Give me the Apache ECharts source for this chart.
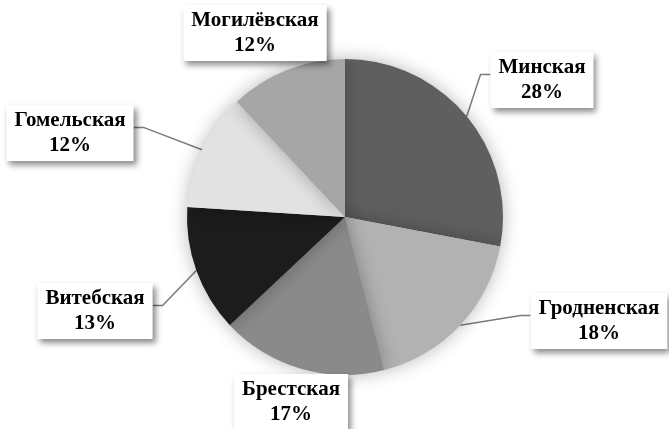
<!DOCTYPE html>
<html>
<head>
<meta charset="utf-8">
<script src="https://cdn.jsdelivr.net/npm/echarts@6/dist/echarts.min.js"></script>
<style>
html, body { margin: 0; padding: 0; background: #fff; }
#pie_1 { width: 669px; height: 429px; }
</style>
</head>
<body>
<div id="pie_1"></div>
<script>
// области и доли (%)
var regions = ['Минская', 'Гродненская', 'Брестская', 'Витебская', 'Гомельская', 'Могилёвская'];
var shares = [28, 18, 17, 13, 12, 12];

// оттенки серого для секторов
var colors = ['#5f5f5f', '#b2b2b2', '#8a8a8a', '#1c1c1c', '#e2e2e2', '#a6a6a6'];
// центры подписей [x, y]
var labelPos = [[542, 80], [599, 321], [291, 402], [95, 311], [70, 133], [255, 33]];
// у каких подписей видна выноска
var showLine = [true, true, false, true, true, false];

(function () {
    var myChart = echarts.init(document.getElementById('pie_1'));
    var cx = 345;

    var data = [];
    for (var i = 0; i < regions.length; i++) {
        data.push({
            name: regions[i],
            value: shares[i],
            itemStyle: { color: colors[i] },
            labelLine: { show: showLine[i] }
        });
    }

    var option = {
        animation: false,
        backgroundColor: '#fff',
        series: [
            {
                type: 'pie',
                center: [cx, 217],
                radius: [0, 158],
                startAngle: 90,
                clockwise: true,
                data: data,
                itemStyle: {
                    borderWidth: 0,
                    shadowBlur: 18,
                    shadowColor: 'rgba(0,0,0,0.28)'
                },
                label: {
                    show: true,
                    position: 'outside',
                    formatter: '{t|{b}}\n{t|{d}%}',
                    align: 'center',
                    backgroundColor: '#fff',
                    padding: [3, 8, 3, 8],
                    shadowColor: 'rgba(0,0,0,0.45)',
                    shadowBlur: 6,
                    shadowOffsetX: 3,
                    shadowOffsetY: 4,
                    rich: {
                        t: {
                            fontFamily: 'Liberation Serif',
                            fontWeight: 'bold',
                            fontSize: 21,
                            lineHeight: 25,
                            color: '#000',
                            align: 'center'
                        }
                    }
                },
                labelLine: {
                    show: true,
                    length: 10,
                    length2: 10,
                    lineStyle: { color: '#7a7a7a', width: 1.5 }
                },
                labelLayout: function (params) {
                    var p = labelPos[params.dataIndex];
                    var r = params.labelRect;
                    var out = { x: p[0], y: p[1], align: 'center', verticalAlign: 'middle' };
                    var pts = params.labelLinePoints;
                    if (pts && showLine[params.dataIndex]) {
                        var left = p[0] < cx;
                        var ex = left ? p[0] + r.width / 2 : p[0] - r.width / 2;
                        var ey = p[1] - r.height / 2 + r.height * 0.4;
                        var bx = left ? ex + 10 : ex - 10;
                        out.labelLinePoints = [pts[0], [bx, ey], [ex, ey]];
                    }
                    return out;
                },
                emphasis: { disabled: true }
            }
        ]
    };

    myChart.setOption(option);
    window.addEventListener('resize', function () {
        myChart.resize();
    });
})();
</script>
</body>
</html>
